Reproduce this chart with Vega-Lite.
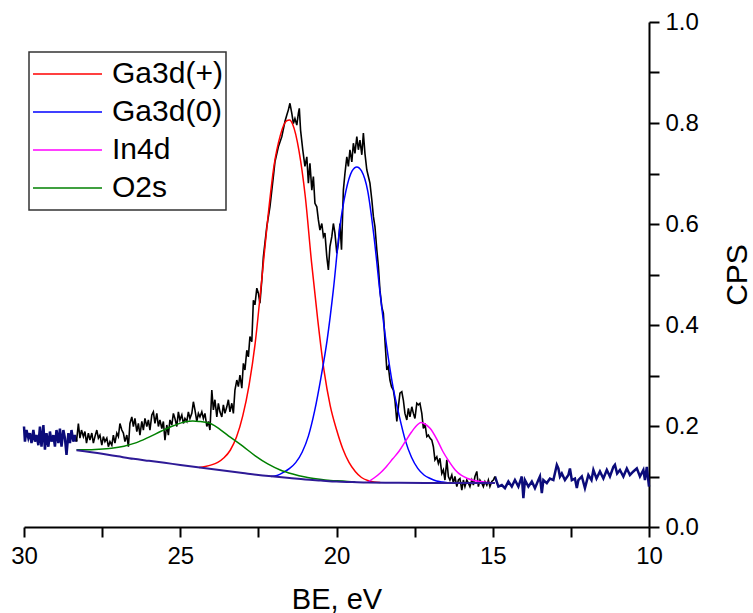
{
  "$schema": "https://vega.github.io/schema/vega-lite/v6.json",
  "width": 625,
  "height": 505,
  "autosize": "none",
  "padding": {"left": 24, "top": 22, "right": 104, "bottom": 86},
  "background": "white",
  "config": {
    "view": {"stroke": null},
    "font": "Liberation Sans",
    "axis": {
      "grid": false,
      "domainColor": "#000",
      "domainWidth": 2,
      "tickColor": "#000",
      "tickWidth": 2,
      "tickSize": 10,
      "labelFont": "Liberation Sans",
      "labelFontSize": 24,
      "labelColor": "#000",
      "labelFlush": false,
      "labelOverlap": false,
      "titleFont": "Liberation Sans",
      "titleFontSize": 29,
      "titleFontWeight": "normal",
      "titleColor": "#000"
    },
    "legend": {
      "orient": "none",
      "legendX": 5,
      "legendY": 30,
      "symbolType": "stroke",
      "symbolSize": 4761,
      "symbolStrokeWidth": 1.5,
      "clipHeight": 37.8,
      "rowPadding": 0,
      "labelFont": "Liberation Sans",
      "labelFontSize": 30,
      "labelColor": "#000",
      "labelOffset": 9,
      "padding": 3,
      "strokeColor": "#333",
      "strokeWidth": 1.5
    }
  },
  "datasets": {
    "navy": [
      {"g":"L","x":30.00,"y":0.199},{"g":"L","x":29.97,"y":0.169},{"g":"L","x":29.92,"y":0.192},{"g":"L","x":29.86,"y":0.176},
      {"g":"L","x":29.81,"y":0.186},{"g":"L","x":29.76,"y":0.166},{"g":"L","x":29.70,"y":0.192},{"g":"L","x":29.65,"y":0.169},
      {"g":"L","x":29.60,"y":0.182},{"g":"L","x":29.54,"y":0.162},{"g":"L","x":29.49,"y":0.199},{"g":"L","x":29.44,"y":0.159},
      {"g":"L","x":29.38,"y":0.202},{"g":"L","x":29.33,"y":0.153},{"g":"L","x":29.28,"y":0.186},{"g":"L","x":29.22,"y":0.159},
      {"g":"L","x":29.17,"y":0.189},{"g":"L","x":29.12,"y":0.169},{"g":"L","x":29.06,"y":0.182},{"g":"L","x":29.01,"y":0.159},
      {"g":"L","x":28.96,"y":0.192},{"g":"L","x":28.90,"y":0.166},{"g":"L","x":28.85,"y":0.195},{"g":"L","x":28.80,"y":0.159},
      {"g":"L","x":28.74,"y":0.192},{"g":"L","x":28.69,"y":0.176},{"g":"L","x":28.64,"y":0.143},{"g":"L","x":28.58,"y":0.186},
      {"g":"L","x":28.53,"y":0.166},{"g":"L","x":28.48,"y":0.192},{"g":"L","x":28.42,"y":0.169},{"g":"L","x":28.37,"y":0.182},
      {"g":"L","x":28.32,"y":0.169},
      {"g":"R","x":14.93,"y":0.100},{"g":"R","x":14.82,"y":0.080},{"g":"R","x":14.71,"y":0.083},{"g":"R","x":14.61,"y":0.077},
      {"g":"R","x":14.50,"y":0.090},{"g":"R","x":14.39,"y":0.080},{"g":"R","x":14.29,"y":0.093},{"g":"R","x":14.18,"y":0.080},
      {"g":"R","x":14.07,"y":0.100},{"g":"R","x":14.02,"y":0.057},{"g":"R","x":13.97,"y":0.093},{"g":"R","x":13.86,"y":0.080},
      {"g":"R","x":13.75,"y":0.090},{"g":"R","x":13.65,"y":0.077},{"g":"R","x":13.54,"y":0.093},{"g":"R","x":13.49,"y":0.100},
      {"g":"R","x":13.43,"y":0.067},{"g":"R","x":13.38,"y":0.093},{"g":"R","x":13.27,"y":0.087},{"g":"R","x":13.17,"y":0.096},
      {"g":"R","x":13.06,"y":0.093},{"g":"R","x":12.95,"y":0.123},{"g":"R","x":12.90,"y":0.116},{"g":"R","x":12.85,"y":0.100},
      {"g":"R","x":12.79,"y":0.106},{"g":"R","x":12.69,"y":0.093},{"g":"R","x":12.58,"y":0.103},{"g":"R","x":12.53,"y":0.116},
      {"g":"R","x":12.47,"y":0.093},{"g":"R","x":12.37,"y":0.096},{"g":"R","x":12.31,"y":0.077},{"g":"R","x":12.26,"y":0.093},
      {"g":"R","x":12.15,"y":0.100},{"g":"R","x":12.05,"y":0.077},{"g":"R","x":11.94,"y":0.103},{"g":"R","x":11.84,"y":0.093},
      {"g":"R","x":11.78,"y":0.113},{"g":"R","x":11.68,"y":0.096},{"g":"R","x":11.57,"y":0.110},{"g":"R","x":11.46,"y":0.096},
      {"g":"R","x":11.35,"y":0.113},{"g":"R","x":11.25,"y":0.100},{"g":"R","x":11.14,"y":0.119},{"g":"R","x":11.09,"y":0.123},
      {"g":"R","x":11.02,"y":0.106},{"g":"R","x":10.93,"y":0.113},{"g":"R","x":10.82,"y":0.100},{"g":"R","x":10.71,"y":0.116},
      {"g":"R","x":10.61,"y":0.103},{"g":"R","x":10.50,"y":0.110},{"g":"R","x":10.39,"y":0.116},{"g":"R","x":10.29,"y":0.100},
      {"g":"R","x":10.18,"y":0.113},{"g":"R","x":10.13,"y":0.093},{"g":"R","x":10.07,"y":0.119},{"g":"R","x":10.00,"y":0.080}
    ],
    "blk": [
      {"x":28.32,"y":0.169},{"x":28.26,"y":0.205},{"x":28.21,"y":0.176},{"x":28.16,"y":0.192},{"x":28.10,"y":0.179},
      {"x":28.05,"y":0.189},{"x":28.00,"y":0.166},{"x":27.94,"y":0.186},{"x":27.89,"y":0.172},{"x":27.83,"y":0.186},
      {"x":27.78,"y":0.166},{"x":27.73,"y":0.179},{"x":27.67,"y":0.192},{"x":27.62,"y":0.176},{"x":27.57,"y":0.182},
      {"x":27.51,"y":0.162},{"x":27.46,"y":0.179},{"x":27.41,"y":0.169},{"x":27.35,"y":0.176},{"x":27.30,"y":0.159},
      {"x":27.25,"y":0.169},{"x":27.19,"y":0.162},{"x":27.14,"y":0.182},{"x":27.09,"y":0.166},{"x":27.03,"y":0.186},
      {"x":26.98,"y":0.179},{"x":26.93,"y":0.205},{"x":26.87,"y":0.192},{"x":26.82,"y":0.186},{"x":26.77,"y":0.169},
      {"x":26.71,"y":0.182},{"x":26.66,"y":0.159},{"x":26.61,"y":0.205},{"x":26.55,"y":0.218},{"x":26.50,"y":0.199},
      {"x":26.45,"y":0.215},{"x":26.39,"y":0.189},{"x":26.34,"y":0.205},{"x":26.29,"y":0.182},{"x":26.23,"y":0.209},
      {"x":26.18,"y":0.192},{"x":26.13,"y":0.215},{"x":26.07,"y":0.199},{"x":26.02,"y":0.212},{"x":25.97,"y":0.192},
      {"x":25.91,"y":0.222},{"x":25.86,"y":0.228},{"x":25.81,"y":0.205},{"x":25.75,"y":0.225},{"x":25.70,"y":0.199},
      {"x":25.65,"y":0.212},{"x":25.59,"y":0.195},{"x":25.54,"y":0.209},{"x":25.49,"y":0.172},{"x":25.43,"y":0.202},
      {"x":25.38,"y":0.182},{"x":25.33,"y":0.212},{"x":25.27,"y":0.202},{"x":25.22,"y":0.225},{"x":25.17,"y":0.215},
      {"x":25.11,"y":0.199},{"x":25.06,"y":0.228},{"x":25.01,"y":0.212},{"x":24.95,"y":0.222},{"x":24.90,"y":0.205},
      {"x":24.85,"y":0.215},{"x":24.79,"y":0.209},{"x":24.74,"y":0.228},{"x":24.69,"y":0.215},{"x":24.63,"y":0.225},
      {"x":24.58,"y":0.248},{"x":24.53,"y":0.232},{"x":24.47,"y":0.209},{"x":24.42,"y":0.225},{"x":24.37,"y":0.218},
      {"x":24.31,"y":0.228},{"x":24.26,"y":0.215},{"x":24.21,"y":0.225},{"x":24.15,"y":0.199},{"x":24.10,"y":0.209},
      {"x":24.05,"y":0.192},{"x":23.99,"y":0.271},{"x":23.94,"y":0.232},{"x":23.89,"y":0.252},{"x":23.83,"y":0.218},
      {"x":23.78,"y":0.245},{"x":23.73,"y":0.228},{"x":23.67,"y":0.218},{"x":23.62,"y":0.242},{"x":23.57,"y":0.225},
      {"x":23.51,"y":0.238},{"x":23.46,"y":0.252},{"x":23.41,"y":0.228},{"x":23.35,"y":0.245},{"x":23.30,"y":0.225},
      {"x":23.25,"y":0.271},{"x":23.19,"y":0.291},{"x":23.14,"y":0.278},{"x":23.09,"y":0.301},{"x":23.03,"y":0.275},
      {"x":22.98,"y":0.324},{"x":22.93,"y":0.311},{"x":22.87,"y":0.350},{"x":22.82,"y":0.337},{"x":22.77,"y":0.377},
      {"x":22.71,"y":0.367},{"x":22.66,"y":0.449},{"x":22.61,"y":0.440},{"x":22.55,"y":0.473},{"x":22.50,"y":0.463},
      {"x":22.45,"y":0.443},{"x":22.39,"y":0.489},{"x":22.34,"y":0.535},{"x":22.23,"y":0.595},{"x":22.13,"y":0.634},
      {"x":22.02,"y":0.694},{"x":21.97,"y":0.723},{"x":21.86,"y":0.753},{"x":21.75,"y":0.773},{"x":21.65,"y":0.803},
      {"x":21.59,"y":0.816},{"x":21.54,"y":0.826},{"x":21.49,"y":0.839},{"x":21.43,"y":0.819},{"x":21.38,"y":0.799},
      {"x":21.33,"y":0.809},{"x":21.27,"y":0.796},{"x":21.22,"y":0.819},{"x":21.19,"y":0.829},{"x":21.15,"y":0.786},
      {"x":21.08,"y":0.747},{"x":21.01,"y":0.714},{"x":20.95,"y":0.733},{"x":20.90,"y":0.681},{"x":20.85,"y":0.720},
      {"x":20.79,"y":0.667},{"x":20.74,"y":0.694},{"x":20.69,"y":0.641},{"x":20.63,"y":0.634},{"x":20.58,"y":0.608},
      {"x":20.53,"y":0.588},{"x":20.47,"y":0.601},{"x":20.42,"y":0.575},{"x":20.37,"y":0.582},{"x":20.31,"y":0.535},
      {"x":20.26,"y":0.509},{"x":20.21,"y":0.555},{"x":20.15,"y":0.575},{"x":20.10,"y":0.601},{"x":20.05,"y":0.582},
      {"x":19.99,"y":0.542},{"x":19.94,"y":0.562},{"x":19.89,"y":0.601},{"x":19.84,"y":0.549},{"x":19.78,"y":0.667},
      {"x":19.73,"y":0.700},{"x":19.67,"y":0.733},{"x":19.62,"y":0.714},{"x":19.57,"y":0.747},{"x":19.51,"y":0.723},
      {"x":19.46,"y":0.760},{"x":19.41,"y":0.740},{"x":19.35,"y":0.773},{"x":19.30,"y":0.747},{"x":19.25,"y":0.766},
      {"x":19.19,"y":0.737},{"x":19.14,"y":0.780},{"x":19.09,"y":0.740},{"x":19.03,"y":0.707},{"x":18.98,"y":0.694},
      {"x":18.93,"y":0.681},{"x":18.87,"y":0.648},{"x":18.82,"y":0.615},{"x":18.77,"y":0.595},{"x":18.71,"y":0.549},
      {"x":18.66,"y":0.516},{"x":18.61,"y":0.469},{"x":18.55,"y":0.436},{"x":18.50,"y":0.423},{"x":18.45,"y":0.370},
      {"x":18.39,"y":0.311},{"x":18.34,"y":0.318},{"x":18.29,"y":0.291},{"x":18.24,"y":0.278},{"x":18.18,"y":0.271},
      {"x":18.13,"y":0.251},{"x":18.07,"y":0.209},{"x":18.02,"y":0.238},{"x":17.97,"y":0.265},{"x":17.91,"y":0.268},
      {"x":17.86,"y":0.251},{"x":17.81,"y":0.225},{"x":17.75,"y":0.212},{"x":17.70,"y":0.235},{"x":17.65,"y":0.218},
      {"x":17.59,"y":0.238},{"x":17.54,"y":0.225},{"x":17.49,"y":0.215},{"x":17.43,"y":0.245},{"x":17.38,"y":0.242},
      {"x":17.33,"y":0.245},{"x":17.27,"y":0.225},{"x":17.22,"y":0.195},{"x":17.17,"y":0.205},{"x":17.11,"y":0.179},
      {"x":17.06,"y":0.182},{"x":17.01,"y":0.176},{"x":16.95,"y":0.172},{"x":16.90,"y":0.159},{"x":16.85,"y":0.133},
      {"x":16.79,"y":0.139},{"x":16.74,"y":0.126},{"x":16.69,"y":0.136},{"x":16.63,"y":0.106},{"x":16.58,"y":0.113},
      {"x":16.53,"y":0.093},{"x":16.47,"y":0.133},{"x":16.42,"y":0.100},{"x":16.37,"y":0.093},{"x":16.31,"y":0.103},
      {"x":16.26,"y":0.087},{"x":16.21,"y":0.100},{"x":16.15,"y":0.080},{"x":16.10,"y":0.093},{"x":16.05,"y":0.096},
      {"x":15.99,"y":0.073},{"x":15.94,"y":0.093},{"x":15.89,"y":0.080},{"x":15.83,"y":0.093},{"x":15.78,"y":0.087},
      {"x":15.73,"y":0.080},{"x":15.67,"y":0.093},{"x":15.62,"y":0.083},{"x":15.57,"y":0.100},{"x":15.51,"y":0.110},
      {"x":15.46,"y":0.080},{"x":15.41,"y":0.093},{"x":15.35,"y":0.087},{"x":15.30,"y":0.080},{"x":15.25,"y":0.090},
      {"x":15.19,"y":0.083},{"x":15.14,"y":0.093},{"x":15.09,"y":0.080},{"x":15.03,"y":0.090},{"x":14.98,"y":0.093},
      {"x":14.93,"y":0.100}
    ],
    "base": [
      {"x":28.32,"y":0.152},{"x":27.5,"y":0.145},{"x":27.0,"y":0.140},{"x":26.5,"y":0.135},{"x":26.0,"y":0.131},
      {"x":25.5,"y":0.127},{"x":25.0,"y":0.123},{"x":24.5,"y":0.119},{"x":24.0,"y":0.115},{"x":23.5,"y":0.111},
      {"x":23.0,"y":0.107},{"x":22.5,"y":0.103},{"x":22.0,"y":0.100},{"x":21.5,"y":0.097},{"x":21.0,"y":0.094},
      {"x":20.5,"y":0.092},{"x":20.0,"y":0.090},{"x":19.5,"y":0.089},{"x":19.0,"y":0.088},{"x":18.0,"y":0.0875},
      {"x":17.0,"y":0.087},{"x":16.0,"y":0.087},{"x":14.93,"y":0.087}
    ],
    "comp": [
      {"s":"Ga3d(+)","x":24.4,"y":0.118},{"s":"Ga3d(+)","x":24.2,"y":0.120},{"s":"Ga3d(+)","x":24.0,"y":0.123},
      {"s":"Ga3d(+)","x":23.8,"y":0.128},{"s":"Ga3d(+)","x":23.6,"y":0.137},{"s":"Ga3d(+)","x":23.4,"y":0.152},
      {"s":"Ga3d(+)","x":23.2,"y":0.178},{"s":"Ga3d(+)","x":23.0,"y":0.220},{"s":"Ga3d(+)","x":22.8,"y":0.280},
      {"s":"Ga3d(+)","x":22.6,"y":0.365},{"s":"Ga3d(+)","x":22.4,"y":0.485},{"s":"Ga3d(+)","x":22.2,"y":0.610},
      {"s":"Ga3d(+)","x":22.0,"y":0.715},{"s":"Ga3d(+)","x":21.8,"y":0.775},{"s":"Ga3d(+)","x":21.6,"y":0.804},
      {"s":"Ga3d(+)","x":21.5,"y":0.806},{"s":"Ga3d(+)","x":21.4,"y":0.797},{"s":"Ga3d(+)","x":21.2,"y":0.745},
      {"s":"Ga3d(+)","x":21.0,"y":0.655},{"s":"Ga3d(+)","x":20.8,"y":0.525},{"s":"Ga3d(+)","x":20.6,"y":0.410},
      {"s":"Ga3d(+)","x":20.4,"y":0.310},{"s":"Ga3d(+)","x":20.2,"y":0.240},{"s":"Ga3d(+)","x":20.0,"y":0.193},
      {"s":"Ga3d(+)","x":19.8,"y":0.155},{"s":"Ga3d(+)","x":19.6,"y":0.128},{"s":"Ga3d(+)","x":19.4,"y":0.110},
      {"s":"Ga3d(+)","x":19.2,"y":0.098},{"s":"Ga3d(+)","x":19.0,"y":0.092},{"s":"Ga3d(+)","x":18.8,"y":0.089},
      {"s":"Ga3d(+)","x":18.6,"y":0.088},
      {"s":"Ga3d(0)","x":22.1,"y":0.100},{"s":"Ga3d(0)","x":21.9,"y":0.102},{"s":"Ga3d(0)","x":21.7,"y":0.108},
      {"s":"Ga3d(0)","x":21.5,"y":0.116},{"s":"Ga3d(0)","x":21.3,"y":0.128},{"s":"Ga3d(0)","x":21.1,"y":0.148},
      {"s":"Ga3d(0)","x":20.9,"y":0.180},{"s":"Ga3d(0)","x":20.7,"y":0.230},{"s":"Ga3d(0)","x":20.5,"y":0.295},
      {"s":"Ga3d(0)","x":20.3,"y":0.370},{"s":"Ga3d(0)","x":20.1,"y":0.470},{"s":"Ga3d(0)","x":19.9,"y":0.590},
      {"s":"Ga3d(0)","x":19.7,"y":0.665},{"s":"Ga3d(0)","x":19.5,"y":0.705},{"s":"Ga3d(0)","x":19.35,"y":0.713},
      {"s":"Ga3d(0)","x":19.2,"y":0.705},{"s":"Ga3d(0)","x":19.0,"y":0.665},{"s":"Ga3d(0)","x":18.8,"y":0.575},
      {"s":"Ga3d(0)","x":18.6,"y":0.460},{"s":"Ga3d(0)","x":18.4,"y":0.360},{"s":"Ga3d(0)","x":18.2,"y":0.280},
      {"s":"Ga3d(0)","x":18.0,"y":0.222},{"s":"Ga3d(0)","x":17.8,"y":0.172},{"s":"Ga3d(0)","x":17.6,"y":0.138},
      {"s":"Ga3d(0)","x":17.4,"y":0.116},{"s":"Ga3d(0)","x":17.2,"y":0.103},{"s":"Ga3d(0)","x":17.0,"y":0.096},
      {"s":"Ga3d(0)","x":16.8,"y":0.091},{"s":"Ga3d(0)","x":16.6,"y":0.089},{"s":"Ga3d(0)","x":16.4,"y":0.087},
      {"s":"In4d","x":19.0,"y":0.089},{"s":"In4d","x":18.8,"y":0.097},{"s":"In4d","x":18.6,"y":0.107},
      {"s":"In4d","x":18.4,"y":0.120},{"s":"In4d","x":18.2,"y":0.135},{"s":"In4d","x":18.0,"y":0.150},
      {"s":"In4d","x":17.8,"y":0.169},{"s":"In4d","x":17.6,"y":0.188},{"s":"In4d","x":17.4,"y":0.203},
      {"s":"In4d","x":17.3,"y":0.207},{"s":"In4d","x":17.2,"y":0.205},{"s":"In4d","x":17.0,"y":0.195},
      {"s":"In4d","x":16.8,"y":0.175},{"s":"In4d","x":16.6,"y":0.150},{"s":"In4d","x":16.4,"y":0.130},
      {"s":"In4d","x":16.2,"y":0.113},{"s":"In4d","x":16.0,"y":0.102},{"s":"In4d","x":15.8,"y":0.096},
      {"s":"In4d","x":15.6,"y":0.092},{"s":"In4d","x":15.4,"y":0.090},{"s":"In4d","x":15.0,"y":0.087},
      {"s":"O2s","x":28.32,"y":0.153},{"s":"O2s","x":28.0,"y":0.153},{"s":"O2s","x":27.6,"y":0.154},
      {"s":"O2s","x":27.2,"y":0.156},{"s":"O2s","x":26.8,"y":0.160},{"s":"O2s","x":26.4,"y":0.167},
      {"s":"O2s","x":26.0,"y":0.178},{"s":"O2s","x":25.6,"y":0.190},{"s":"O2s","x":25.2,"y":0.201},
      {"s":"O2s","x":24.8,"y":0.209},{"s":"O2s","x":24.6,"y":0.210},{"s":"O2s","x":24.4,"y":0.209},
      {"s":"O2s","x":24.0,"y":0.204},{"s":"O2s","x":23.7,"y":0.192},{"s":"O2s","x":23.4,"y":0.178},
      {"s":"O2s","x":23.0,"y":0.160},{"s":"O2s","x":22.6,"y":0.141},{"s":"O2s","x":22.2,"y":0.125},
      {"s":"O2s","x":21.8,"y":0.113},{"s":"O2s","x":21.4,"y":0.105},{"s":"O2s","x":21.0,"y":0.099},
      {"s":"O2s","x":20.6,"y":0.095},{"s":"O2s","x":20.2,"y":0.092},{"s":"O2s","x":19.8,"y":0.091},
      {"s":"O2s","x":19.4,"y":0.089}
    ]
  },
  "encoding": {
    "x": {
      "field": "x", "type": "quantitative",
      "scale": {"domain": [10, 30], "reverse": true, "nice": false, "zero": false},
      "axis": {
        "orient": "bottom",
        "title": "BE, eV",
        "values": [30, 27.5, 25, 22.5, 20, 17.5, 15, 12.5, 10],
        "labelExpr": "datum.value % 5 == 0 ? format(datum.value, 'd') : ''",
        "labelPadding": 7,
        "titlePadding": 17
      }
    },
    "y": {
      "field": "y", "type": "quantitative",
      "scale": {"domain": [0, 1], "nice": false, "zero": false},
      "axis": {
        "orient": "right",
        "title": "CPS",
        "titleAngle": 270,
        "titleFontSize": 30,
        "values": [0, 0.1, 0.2, 0.3, 0.4, 0.5, 0.6, 0.7, 0.8, 0.9, 1.0],
        "labelExpr": "round(datum.value * 10) % 2 == 0 ? format(datum.value, '.1f') : ''",
        "labelPadding": 6,
        "titlePadding": 54
      }
    }
  },
  "layer": [
    {
      "data": {"name": "navy"},
      "mark": {"type": "line", "color": "#0b0b7a", "strokeWidth": 2.5},
      "encoding": {"detail": {"field": "g", "type": "nominal"}}
    },
    {
      "data": {"name": "blk"},
      "mark": {"type": "line", "color": "#000000", "strokeWidth": 1.6},
      "encoding": {}
    },
    {
      "data": {"name": "comp"},
      "mark": {"type": "line", "strokeWidth": 1.5, "interpolate": "monotone"},
      "encoding": {
        "color": {
          "field": "s", "type": "nominal",
          "scale": {"domain": ["Ga3d(+)", "Ga3d(0)", "In4d", "O2s"], "range": ["#ff0000", "#0000ff", "#ff00ff", "#008000"]},
          "legend": {"title": null}
        }
      }
    },
    {
      "data": {"name": "base"},
      "mark": {"type": "line", "color": "#2e1a96", "strokeWidth": 2, "interpolate": "monotone"},
      "encoding": {}
    }
  ]
}
